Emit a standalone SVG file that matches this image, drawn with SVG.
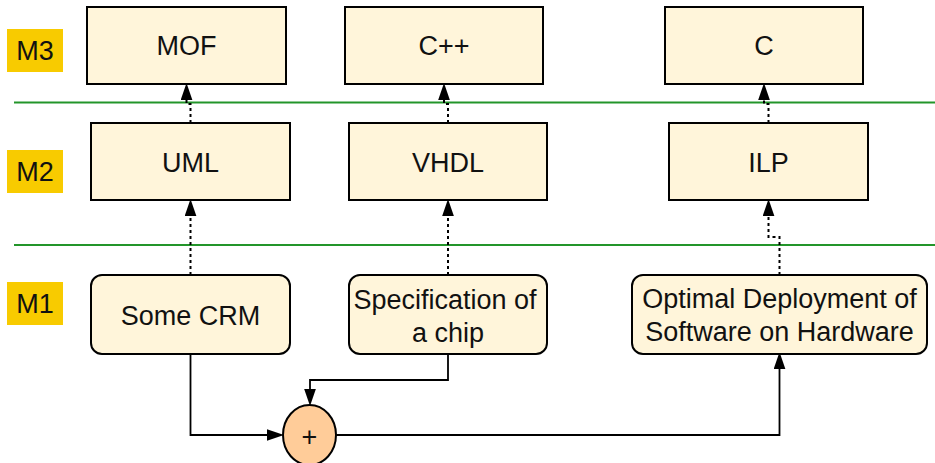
<svg xmlns="http://www.w3.org/2000/svg" width="935" height="463" viewBox="0 0 935 463">
<style>
.box{fill:#fff5da;stroke:#000;stroke-width:2}
.lvl{fill:#f8cb00}
.t{font-family:"Liberation Sans",Arial,sans-serif;font-size:27px;fill:#111;text-anchor:middle}
.sep{stroke:#23952a;stroke-width:1.8;fill:none}
.dot{stroke:#000;stroke-width:2;stroke-dasharray:3 3;fill:none}
.sol{stroke:#000;stroke-width:1.8;fill:none}
</style>
<defs>
<marker id="ah" markerUnits="userSpaceOnUse" markerWidth="17" markerHeight="12" viewBox="0 0 16 11" refX="0" refY="5.5" orient="auto">
<path d="M0,0 L16,5.5 L0,11 z" fill="#000"/>
</marker>
</defs>
<rect width="935" height="463" fill="#fff"/>
<g id="separators">
<line class="sep" x1="14" y1="102.5" x2="935" y2="102.5"/>
<line class="sep" x1="14" y1="245" x2="935" y2="245"/>
</g>
<g id="level-M3"><rect class="lvl" x="7" y="29" width="56" height="43"/><text class="t" x="35" y="60">M3</text></g>
<g id="level-M2"><rect class="lvl" x="7" y="150" width="56" height="43"/><text class="t" x="35" y="181">M2</text></g>
<g id="level-M1"><rect class="lvl" x="7" y="282" width="56" height="43"/><text class="t" x="35" y="313">M1</text></g>
<g id="connectors">
<path class="dot" d="M190.5 275 V216" marker-end="url(#ah)"/>
<path class="dot" d="M448 275 V216" marker-end="url(#ah)"/>
<path class="dot" d="M779.5 275 V237 H768.5 V216" marker-end="url(#ah)"/>
<path class="dot" d="M190.5 123 V104 H186.5 V100" marker-end="url(#ah)"/>
<path class="dot" d="M448 123 V104 H444 V100" marker-end="url(#ah)"/>
<path class="dot" d="M768.5 123 V104 H764 V100" marker-end="url(#ah)"/>
<path class="sol" d="M190.5 354 V435 H267" marker-end="url(#ah)"/>
<path class="sol" d="M448 354 V380 H310 V389" marker-end="url(#ah)"/>
<path class="sol" d="M336 435 H779.5 V369" marker-end="url(#ah)"/>
</g>
<g id="MOF"><rect class="box" x="87" y="7" width="199" height="77"/><text class="t" x="186.5" y="55">MOF</text></g>
<g id="Cpp"><rect class="box" x="345" y="7" width="198" height="77"/><text class="t" x="444" y="55">C++</text></g>
<g id="C"><rect class="box" x="665" y="7" width="198" height="77"/><text class="t" x="764" y="55">C</text></g>
<g id="UML"><rect class="box" x="91" y="123" width="199" height="77"/><text class="t" x="190.5" y="172">UML</text></g>
<g id="VHDL"><rect class="box" x="349" y="123" width="198" height="77"/><text class="t" x="448" y="172">VHDL</text></g>
<g id="ILP"><rect class="box" x="669" y="123" width="199" height="77"/><text class="t" x="768.5" y="172">ILP</text></g>
<g id="SomeCRM"><rect class="box" x="91" y="275" width="199" height="79" rx="11"/><text class="t" x="190.5" y="325">Some CRM</text></g>
<g id="Spec"><rect class="box" x="349" y="275" width="198" height="79" rx="11"/><text class="t" x="445" y="309">Specification of</text><text class="t" x="448" y="342">a chip</text></g>
<g id="Optimal"><rect class="box" x="632" y="275" width="295" height="79" rx="11"/><text class="t" x="779.5" y="308">Optimal Deployment of</text><text class="t" x="779.5" y="341">Software on Hardware</text></g>
<g id="plus"><ellipse cx="309.5" cy="435" rx="26.5" ry="30" fill="#ffcc99" stroke="#000" stroke-width="2"/><text class="t" x="309.5" y="446">+</text></g>
</svg>
